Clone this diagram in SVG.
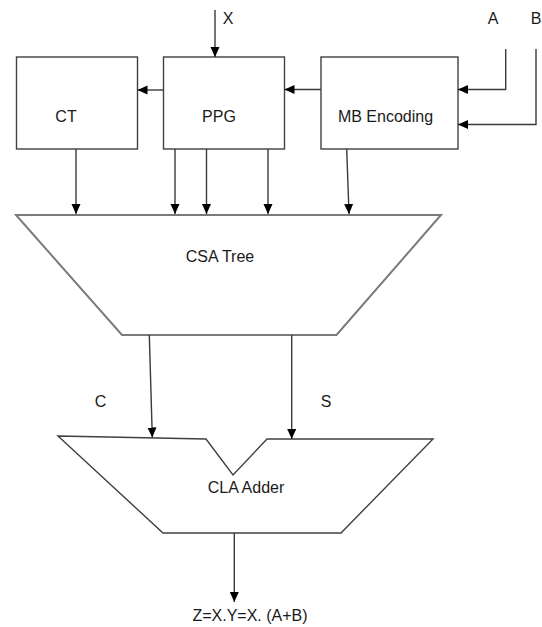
<svg xmlns="http://www.w3.org/2000/svg" width="542" height="627" viewBox="0 0 542 627">
<defs>
<marker id="ah" markerUnits="userSpaceOnUse" markerWidth="11" markerHeight="10" refX="10" refY="4.5" orient="auto">
<path d="M0,0 L10,4.5 L0,9 z" fill="#000"/>
</marker>
<style>
.box{fill:#fff;stroke:#404040;stroke-width:1.4}
.csa{fill:#fff;stroke:#7a7a7a;stroke-width:2}
.cla{fill:#fff;stroke:#404040;stroke-width:1.4}
.wire{fill:none;stroke:#3a3a3a;stroke-width:1.4}
.arr{fill:none;stroke:#3a3a3a;stroke-width:1.4;marker-end:url(#ah)}
text{font-family:"Liberation Sans",Arial,sans-serif;font-size:16px;fill:#1a1a1a}
.c{text-anchor:middle}
</style>
</defs>
<rect width="542" height="627" fill="#fff"/>
<g id="ct"><rect class="box" x="16.5" y="57" width="121" height="92"/><text class="c" x="66" y="122">CT</text></g>
<g id="ppg"><rect class="box" x="163.5" y="57" width="121" height="92"/><text class="c" x="219" y="122">PPG</text></g>
<g id="mb"><rect class="box" x="321" y="57" width="137" height="92"/><text class="c" x="385.5" y="122">MB Encoding</text></g>
<g id="csa"><polygon class="csa" points="16,215 441,215 336.5,335 122,335"/><text class="c" x="220" y="262">CSA Tree</text></g>
<g id="cla"><polygon class="cla" points="58,436 206,439 233,475 267,439 433,439 341,533 163,533"/><text class="c" x="246" y="493">CLA Adder</text></g>
<g id="labels">
<text class="c" x="228" y="24">X</text>
<text class="c" x="493" y="24">A</text>
<text class="c" x="536" y="24">B</text>
<text class="c" x="100.5" y="407">C</text>
<text class="c" x="326" y="407">S</text>
<text class="c" x="250" y="621">Z=X.Y=X. (A+B)</text>
</g>
<g id="connectors">
<line class="arr" x1="215" y1="10" x2="215" y2="57"/>
<line class="arr" x1="163.5" y1="90" x2="137.5" y2="90"/>
<line class="arr" x1="321" y1="89.5" x2="284.5" y2="89.5"/>
<polyline class="arr" points="505.7,49 505.7,89.5 458,89.5"/>
<polyline class="arr" points="536,49 536,124.5 458,124.5"/>
<line class="arr" x1="76" y1="149" x2="76" y2="214"/>
<line class="arr" x1="175" y1="149" x2="175" y2="214"/>
<line class="arr" x1="206.5" y1="149" x2="206.5" y2="214"/>
<line class="arr" x1="268" y1="149" x2="268" y2="214"/>
<line class="arr" x1="346.7" y1="149" x2="349" y2="214"/>
<line class="arr" x1="149.3" y1="335" x2="152.3" y2="437.5"/>
<line class="arr" x1="291.7" y1="335" x2="291.7" y2="439"/>
<line class="arr" x1="234.3" y1="533" x2="234.3" y2="602"/>
</g>
</svg>
